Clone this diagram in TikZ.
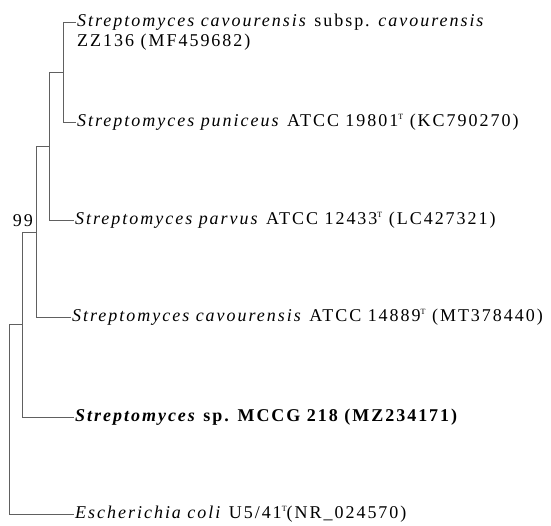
\documentclass[tikz,border=0pt]{standalone}
\usepackage{fontspec}
\setmainfont{Liberation Serif}[LetterSpace=11]
\usetikzlibrary{positioning}

\newcommand{\typeT}{\raisebox{7pt}{\fontsize{8}{8}\selectfont T}}

\begin{document}
\begin{tikzpicture}[
    x=1pt, y=-1pt,
    every node/.style={font=\fontsize{18}{20}\selectfont},
    leaf/.style={anchor=west, inner sep=1pt, text height=12pt, text depth=3pt},
    branch/.style={draw=gray!75!black, line width=0.9pt},
    support/.style={anchor=base east, inner sep=0pt}
]
\useasboundingbox (0,0) rectangle (551,526);

% Internal nodes
\coordinate (n1) at (63,72);
\coordinate (n2) at (49,146);
\coordinate (n3) at (36,232);
\coordinate (n4) at (22,324);
\coordinate (root) at (9,419);

% Leaves
\node[leaf] (t1) at (76,22.5)
    {\vtop{\hbox{\textit{Streptomyces cavourensis} subsp. \textit{cavourensis}}\hbox{ZZ136 (MF459682)}}};
\node[leaf] (t2) at (76,122) {\textit{Streptomyces puniceus} ATCC 19801\typeT\ (KC790270)};
\node[leaf] (t3) at (74,220) {\textit{Streptomyces parvus} ATCC 12433\typeT\ (LC427321)};
\node[leaf] (t4) at (71,317) {\textit{Streptomyces cavourensis} ATCC 14889\typeT\ (MT378440)};
\node[leaf] (t5) at (74,417) {\textbf{\textit{Streptomyces} sp. MCCG 218 (MZ234171)}};
\node[leaf] (t6) at (74,514) {\textit{Escherichia coli} U5/41\typeT(NR\_024570)};

% Branches
\draw[branch] (n1) |- (t1.west);
\draw[branch] (n1) |- (t2.west);
\draw[branch] (n2) |- (n1);
\draw[branch] (n2) |- (t3.west);
\draw[branch] (n3) |- (n2);
\draw[branch] (n3) |- (t4.west);
\draw[branch] (n4) |- (n3);
\draw[branch] (n4) |- (t5.west);
\draw[branch] (root) |- (n4);
\draw[branch] (root) |- (t6.west);

% Bootstrap value
\node[support] (b99) at (33,227) {99};

\end{tikzpicture}
\end{document}
